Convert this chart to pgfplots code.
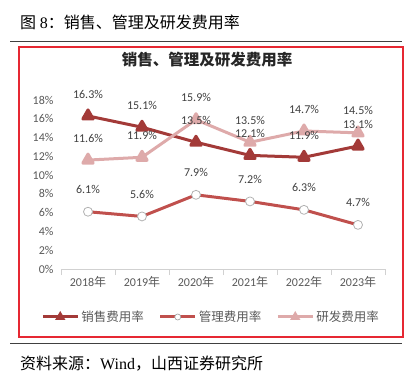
\documentclass[border=0pt]{standalone}
\usepackage{pgfplots}
\pgfplotsset{compat=1.18}
\usepackage{fontspec}
\setmainfont{Carlito}
\newfontfamily\cjk{Noto Sans CJK SC}
\newfontfamily\serifl{Liberation Serif}
\definecolor{sales}{RGB}{163,58,56}
\definecolor{mgmt}{RGB}{192,80,77}
\definecolor{rd}{RGB}{222,170,170}
\definecolor{boxred}{RGB}{230,40,50}
\definecolor{txt}{RGB}{64,64,64}
\definecolor{tickc}{RGB}{89,89,89}
\pgfplotstableread{
x sales mgmt rd
0 16.3 6.1 11.6
1 15.1 5.6 11.9
2 13.5 7.9 15.9
3 12.1 7.2 13.5
4 11.9 6.3 14.7
5 13.1 4.7 14.5
}\datatable
\begin{document}
\begin{tikzpicture}
\path (0,0) rectangle (410pt,381pt);
\begin{axis}[
  at={(61pt,112pt)}, anchor=south west,
  scale only axis, width=324pt, height=169pt,
  xmin=-0.5, xmax=5.5, ymin=0, ymax=18,
  clip=false,
  axis x line*=bottom, axis y line*=left,
  x axis line style={draw=black!18, line width=0.9pt, -},
  y axis line style={draw=none},
  major tick length=0pt,
  xtick={0,1,2,3,4,5},
  xticklabels={2018{\cjk 年},2019{\cjk 年},2020{\cjk 年},2021{\cjk 年},2022{\cjk 年},2023{\cjk 年}},
  ytick={0,2,4,6,8,10,12,14,16,18},
  yticklabels={0\%,2\%,4\%,6\%,8\%,10\%,12\%,14\%,16\%,18\%},
  extra x ticks={-0.5,0.5,1.5,2.5,3.5,4.5,5.5},
  extra x tick labels={},
  extra x tick style={major tick length=6pt, tick align=outside, tick style={draw=black!18, line width=0.9pt}},
  ticklabel style={font=\fontsize{12}{14}\selectfont, text=tickc},
  xticklabel style={yshift=-4pt},
  yticklabel style={xshift=-4pt},
  /pgf/number format/assume math mode=true,
  legend image code/.code={\draw[mark repeat=2,mark phase=2,#1] plot coordinates {(0pt,0pt) (17.5pt,0pt) (35pt,0pt)};},
  legend style={at={(0.463,-0.284)}, anchor=center, draw=none, fill=none, inner sep=0pt,
    legend columns=3, font=\cjk\fontsize{12.5}{14}\selectfont, text=tickc,
    nodes={inner sep=2pt},
    /tikz/every even column/.append style={column sep=13pt}},
  lbl/.style={forget plot, draw=none, mark=none,
    nodes near coords={\pgfmathprintnumber[fixed,fixed zerofill,precision=1]{\pgfplotspointmeta}\%},
    every node near coord/.append style={font=\fontsize{12}{14}\selectfont, text=txt, anchor=center, yshift=22pt}},
]
\addlegendimage{sales, line width=3pt, mark=triangle*, mark size=3pt, mark options={solid}}
\addlegendentry{销售费用率}
\addlegendimage{mgmt, line width=3pt, mark=*, mark size=3pt, mark options={fill=white, draw=black!35, line width=0.7pt}}
\addlegendentry{管理费用率}
\addlegendimage{rd, line width=3pt, mark=triangle*, mark size=3pt, mark options={solid}}
\addlegendentry{研发费用率}

\addplot[forget plot, sales, line width=3pt, line join=round, mark=triangle*, mark size=6pt] table[x=x, y=sales] {\datatable};
\addplot[forget plot, mgmt, line width=3pt, line join=round, mark=*, mark size=4.5pt, mark options={fill=white, draw=black!30, line width=0.8pt}] table[x=x, y=mgmt] {\datatable};
\addplot[forget plot, rd, line width=3pt, line join=round, mark=triangle*, mark size=6pt] table[x=x, y=rd] {\datatable};

\addplot[lbl] table[x=x, y=sales] {\datatable};
\addplot[lbl] table[x=x, y=mgmt] {\datatable};
\addplot[lbl] table[x=x, y=rd] {\datatable};
\end{axis}
% decorations
\node[anchor=west, inner sep=0pt, font=\fontsize{16}{18}\selectfont] at (20pt,359pt) {\cjk 图 {\serifl 8}：销售、管理及研发费用率};
\draw[black!75, line width=0.8pt] (10pt,340pt) -- (402pt,340pt);
\draw[boxred, line width=1.1pt] (19pt,44pt) rectangle (403pt,334pt);
\node[inner sep=0pt, font=\cjk\bfseries\fontsize{15.5}{17}\selectfont, text=black!85] at (207pt,321pt) {销售、管理及研发费用率};
\draw[black!75, line width=0.8pt] (10pt,38pt) -- (402pt,38pt);
\node[anchor=west, inner sep=0pt, font=\fontsize{16}{18}\selectfont] at (20pt,17pt) {\cjk 资料来源：{\serifl Wind}，山西证券研究所};
\end{tikzpicture}
\end{document}
